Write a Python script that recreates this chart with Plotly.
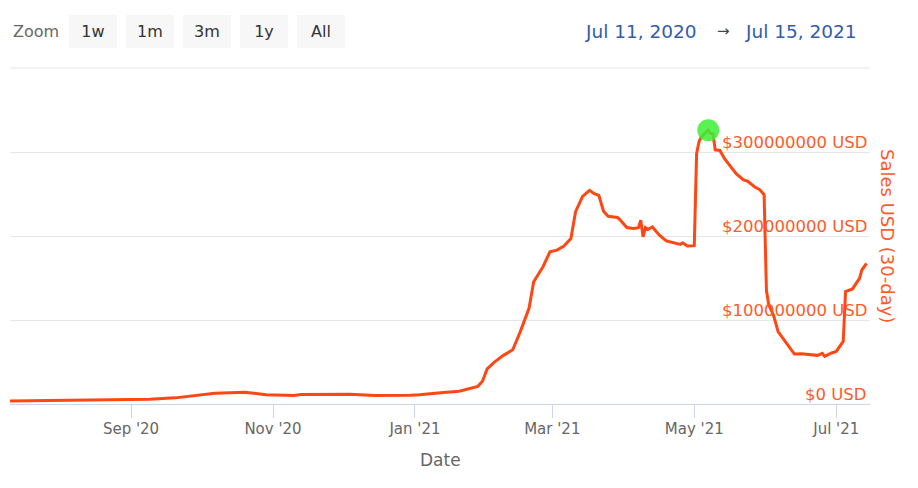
import plotly.graph_objects as go

# ---------------- data ----------------
dates = [
    "2020-07-11", "2020-08-02", "2020-09-01", "2020-09-09", "2020-09-20", "2020-09-29",
    "2020-10-07", "2020-10-20", "2020-10-24", "2020-10-29", "2020-11-10", "2020-11-13",
    "2020-12-04", "2020-12-15", "2020-12-30", "2021-01-03", "2021-01-12", "2021-01-20",
    "2021-01-28", "2021-01-30", "2021-02-01", "2021-02-04", "2021-02-08", "2021-02-12",
    "2021-02-15", "2021-02-19", "2021-02-21", "2021-02-25", "2021-02-28", "2021-03-03",
    "2021-03-06", "2021-03-09", "2021-03-11", "2021-03-14", "2021-03-17", "2021-03-19",
    "2021-03-21", "2021-03-23", "2021-03-25", "2021-03-29", "2021-03-30", "2021-04-02",
    "2021-04-05", "2021-04-07", "2021-04-08", "2021-04-09", "2021-04-10", "2021-04-11",
    "2021-04-13", "2021-04-16", "2021-04-19", "2021-04-23", "2021-04-25", "2021-04-26",
    "2021-04-28", "2021-05-01", "2021-05-02", "2021-05-03", "2021-05-04", "2021-05-06",
    "2021-05-07", "2021-05-08", "2021-05-09", "2021-05-10", "2021-05-12", "2021-05-14",
    "2021-05-17", "2021-05-19", "2021-05-22", "2021-05-24", "2021-05-27", "2021-05-29",
    "2021-05-31", "2021-06-01", "2021-06-02", "2021-06-04", "2021-06-06", "2021-06-09",
    "2021-06-13", "2021-06-16", "2021-06-20", "2021-06-23", "2021-06-25", "2021-06-26",
    "2021-06-29", "2021-07-01", "2021-07-04", "2021-07-05", "2021-07-08", "2021-07-11",
    "2021-07-12", "2021-07-14",
]
sales_musd = [
    3.5, 4.0, 5.3, 5.7, 7.3, 10.4,
    12.8, 14.0, 12.5, 10.9, 10.0, 11.3,
    11.6, 10.0, 10.4, 10.9, 13.3, 15.2,
    21.0, 27.0, 41.7, 49.6, 57.9, 64.6,
    84.4, 114.0, 145.6, 163.4, 181.2, 183.2,
    188.0, 197.0, 229.0, 247.2, 254.4, 250.4,
    248.4, 229.6, 223.5, 222.0, 219.6, 210.1,
    208.9, 210.0, 218.8, 199.0, 210.0, 207.7,
    210.8, 201.0, 194.2, 191.2, 190.0, 191.9,
    188.0, 188.5, 298.0, 312.0, 318.0, 323.5,
    326.0, 322.0, 321.6, 302.6, 301.8, 292.0,
    282.0, 274.2, 267.0, 265.0, 258.3, 255.5,
    249.2, 135.0, 118.0, 106.0, 86.3, 74.5,
    59.5, 59.9, 58.7, 57.9, 60.2, 56.7,
    60.7, 62.6, 74.5, 133.8, 137.0, 149.6,
    159.5, 167.4,
]
sales_usd = [v * 1e6 for v in sales_musd]

x_tickvals = ["2020-09-01", "2020-11-01", "2021-01-01", "2021-03-01", "2021-05-01", "2021-07-01"]
x_ticktext = ["Sep '20", "Nov '20", "Jan '21", "Mar '21", "May '21", "Jul '21"]
y_tickvals = [0, 1e8, 2e8, 3e8, 4e8]
y_ticktext = ["$0 USD", "$100000000 USD", "$200000000 USD", "$300000000 USD", ""]

zoom_buttons = ["1w", "1m", "3m", "1y", "All"]
range_from = "Jul 11, 2020"
range_to = "Jul 15, 2021"
x_range = ["2020-07-11", "2021-07-15 12:00"]
y_range = [0, 4e8]

# ---------------- styling ----------------
FONT = "DejaVu Sans"
LINE_COLOR = "#ff4714"
LABEL_COLOR = "#ff5a28"
W, H = 918, 488
L, R, T, B = 10, 870, 68, 404


def px_x(x):
    return (x - L) / (R - L)


def px_y(y):
    return (B - y) / (B - T)


peak_i = max(range(len(sales_usd)), key=lambda i: sales_usd[i])

fig = go.Figure()
fig.add_trace(go.Scatter(
    x=dates, y=sales_usd, mode="lines",
    line=dict(color=LINE_COLOR, width=3),
    name="Sales USD (30-day)",
    hovertemplate="%{x|%b %d, %Y}<br>$%{y:,.0f} USD<extra></extra>",
))
fig.add_trace(go.Scatter(
    x=[dates[peak_i]], y=[sales_usd[peak_i]], mode="markers",
    marker=dict(color="#3cf034", size=22, opacity=0.85, line=dict(width=0)),
    hoverinfo="skip",
))

annotations = []
annotations.append(dict(
    text="Zoom", x=px_x(11), y=px_y(31.5), xref="paper", yref="paper",
    xanchor="left", yanchor="middle", showarrow=False,
    font=dict(family=FONT, size=16, color="#666666"),
))
for i, lab in enumerate(zoom_buttons):
    left = 68.5 + 57.0 * i
    annotations.append(dict(
        text=lab, x=px_x(left + 24.25), y=px_y(31.5), xref="paper", yref="paper",
        xanchor="center", yanchor="middle", showarrow=False,
        width=48, height=33, bgcolor="#f7f7f7", borderpad=0, borderwidth=0,
        font=dict(family=FONT, size=16, color="#333333"),
    ))
annotations.append(dict(
    text=range_from, x=px_x(583), y=px_y(31.5), xref="paper", yref="paper",
    xanchor="left", yanchor="middle", showarrow=False,
    font=dict(family=FONT, size=18.5, color="#335cad"),
))
annotations.append(dict(
    text="→", x=px_x(723), y=px_y(31), xref="paper", yref="paper",
    xanchor="center", yanchor="middle", showarrow=False,
    font=dict(family=FONT, size=15, color="#444444"),
))
annotations.append(dict(
    text=range_to, x=px_x(743), y=px_y(31.5), xref="paper", yref="paper",
    xanchor="left", yanchor="middle", showarrow=False,
    font=dict(family=FONT, size=18.5, color="#335cad"),
))
# value-axis labels (drawn inside the plot, right aligned, just above each grid line)
for v, txt in zip(y_tickvals, y_ticktext):
    if not txt:
        continue
    annotations.append(dict(
        text=txt, x=1, y=v, xref="paper", yref="y",
        xanchor="right", yanchor="middle", xshift=-1, yshift=9.5, showarrow=False,
        font=dict(family=FONT, size=16.5, color=LABEL_COLOR),
    ))
annotations.append(dict(
    text="Sales USD (30-day)", x=px_x(888), y=px_y(236), xref="paper", yref="paper",
    xanchor="center", yanchor="middle", textangle=90, showarrow=False,
    font=dict(family=FONT, size=18, color=LABEL_COLOR),
))
annotations.append(dict(
    text="Date", x=px_x(440), y=px_y(460), xref="paper", yref="paper",
    xanchor="center", yanchor="middle", showarrow=False,
    font=dict(family=FONT, size=17, color="#666666"),
))

fig.update_layout(
    width=W, height=H,
    margin=dict(l=L, r=W - R, t=T, b=H - B, autoexpand=False),
    paper_bgcolor="white", plot_bgcolor="white",
    showlegend=False,
    font=dict(family=FONT),
    annotations=annotations,
    shapes=[dict(type="line", xref="paper", yref="paper", x0=0, x1=1, y0=1, y1=1,
                 line=dict(color="#e6e6e6", width=1), layer="below")],
    xaxis=dict(
        type="date", range=x_range,
        tickvals=x_tickvals, ticktext=x_ticktext,
        ticks="outside", ticklen=13, tickwidth=1, tickcolor="#ccd6eb",
        ticklabelstandoff=-2,
        showline=True, linecolor="#ccd6eb", linewidth=1,
        showgrid=False, zeroline=False,
        tickfont=dict(family=FONT, size=15, color="#666666"),
    ),
    yaxis=dict(
        side="right", range=y_range, tickvals=y_tickvals,
        showticklabels=False, ticks="",
        showgrid=True, gridcolor="#e6e6e6", gridwidth=1,
        showline=False, zeroline=False,
    ),
)

fig.write_html("out.html", config={"displayModeBar": False},
               post_script="document.body.style.margin='0px';")
